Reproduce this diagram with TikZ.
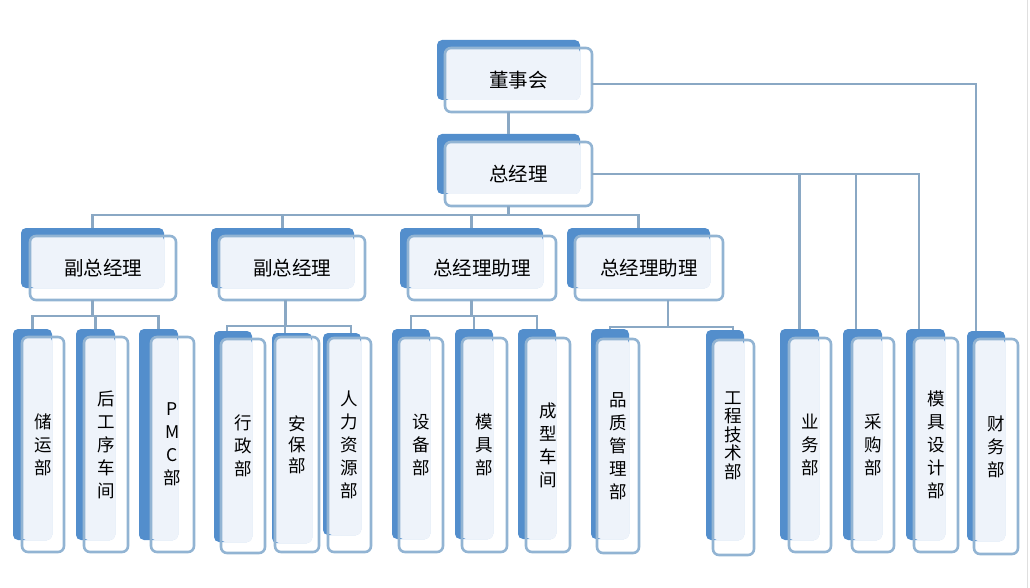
\documentclass[tikz,border=0pt]{standalone}
\usepackage{fontspec}
\newfontfamily\cjk{Noto Sans CJK SC}
\usetikzlibrary{fit}
\definecolor{orgblue}{RGB}{83,142,204}
\definecolor{orgedge}{RGB}{146,180,211}
\definecolor{orgpale}{RGB}{238,243,250}
\definecolor{orglink}{RGB}{138,168,196}
\newcommand{\orgunit}[7][]{%
  \node[backbox, fit={(#3) (#4)}] (#2b) {};
  \fill[palefill] (#5) rectangle (#4);
  \node[frontbox, fit={(#5) (#6)}] (#2) {};
  \node[unitlabel, #1] (#2t) at (#2.center) {#7};
}

\begin{document}
\begin{tikzpicture}[x=1pt,y=-1pt,
  backbox/.style={fill=orgblue,rounded corners=5pt,inner sep=0pt,outer sep=0pt},
  frontbox/.style={draw=orgedge,line width=2.6pt,rounded corners=6pt,inner sep=0pt,outer sep=0pt},
  palefill/.style={fill=orgpale,rounded corners=4pt},
  unitlabel/.style={align=center,inner sep=0pt,font=\cjk\fontsize{17.5}{23}\selectfont},
  toplabel/.style={font=\cjk\fontsize{19.5}{24}\selectfont},
  link/.style={draw=orglink,line width=2.6pt}]
  \useasboundingbox (0,0) rectangle (1030,588);
  \draw[gray!25,line width=1pt] (1027,0) -- (1027,588);
  \orgunit[toplabel]{dsh}{437,40}{580,100}{445,48}{592,112}{董事会}
  \orgunit[toplabel]{zjl}{437,134}{580,194}{445,142}{592,206}{总经理}
  \orgunit[toplabel]{fz1}{21,228}{164,288}{30,236}{176,300}{副总经理}
  \orgunit[toplabel]{fz2}{211,228}{354,288}{219,236}{365,300}{副总经理}
  \orgunit[toplabel]{zl1}{400,228}{543,288}{408,236}{556,300}{总经理助理}
  \orgunit[toplabel]{zl2}{567,228}{710,288}{575,236}{723,300}{总经理助理}
  \orgunit{cy}{13,329}{52,540}{22,337}{64,552}{储\\运\\部}
  \orgunit{hgx}{76,329}{115,540}{84,337}{128,552}{后\\工\\序\\车\\间}
  \orgunit{pmc}{139,329}{178,540}{151,337}{194,552}{P\\M\\C\\部}
  \orgunit{xz}{214,331}{252,542}{221,339}{265,553}{行\\政\\部}
  \orgunit[font=\cjk\fontsize{17.5}{21}\selectfont]{ab}{272,333}{312,543}{275,337}{319,552}{安\\保\\部}
  \orgunit{rl}{323,333}{361,535}{328,338}{371,552}{人\\力\\资\\源\\部}
  \orgunit{sb}{392,329}{430,539}{399,338}{443,552}{设\\备\\部}
  \orgunit{mj}{455,329}{493,539}{462,338}{507,552}{模\\具\\部}
  \orgunit{cx}{518,329}{556,539}{526,338}{570,552}{成\\型\\车\\间}
  \orgunit{pz}{591,329}{629,539}{597,339}{639,553}{品\\质\\管\\理\\部}
  \orgunit[font=\cjk\fontsize{17.5}{18.5}\selectfont,yshift=12pt]{gc}{706,330}{744,540}{713,340}{754,555}{工\\程\\技\\术\\部}
  \orgunit{yw}{780,329}{819,540}{789,338}{831,552}{业\\务\\部}
  \orgunit{cg}{843,329}{882,540}{852,338}{894,552}{采\\购\\部}
  \orgunit{mjsj}{906,329}{945,540}{914,338}{958,552}{模\\具\\设\\计\\部}
  \orgunit{cw}{967,331}{1005,541}{974,339}{1018,554}{财\\务\\部}
  \coordinate (busa) at (0,215);
  \coordinate (busb) at (0,316);
  \coordinate (busc) at (0,326);
  \coordinate (busd) at (0,327);
  \draw[link] (dshb.south |- dsh.south) -- (zjlb.north);
  \draw[link] (zjlb.south |- zjl.south) -- (zjlb.south |- busa);
  \draw[link] (fz1b.north) |- (busa -| zl2b.north) -- (zl2b.north);
  \foreach \n in {fz2b,zl1b}
    \draw[link] (\n.north) -- (\n.north |- busa);
  \draw[link] (fz1b.south |- fz1.south) -- (fz1b.south |- busb);
  \draw[link] (cyb.north) |- (busb -| pmcb.north) -- (pmcb.north);
  \draw[link] (hgxb.north) -- (hgxb.north |- busb);
  \coordinate (fz2out) at ([xshift=3pt]fz2b.south |- fz2.south);
  \coordinate (xzin) at ([xshift=-6pt]xzb.north);
  \coordinate (abin) at ([xshift=-7pt]abb.north);
  \coordinate (rlin) at ([xshift=9pt]rlb.north);
  \draw[link] (fz2out) -- (fz2out |- busc);
  \draw[link] (xzin) |- (busc -| rlin) -- (rlin);
  \draw[link] (abin) -- (abin |- busc);
  \draw[link] (zl1b.south |- zl1.south) -- (zl1b.south |- busb);
  \draw[link] (sbb.north) |- (busb -| cxb.north) -- (cxb.north);
  \draw[link] (mjb.north) -- (mjb.north |- busb);
  \coordinate (zl2out) at ([xshift=19pt]zl2.south);
  \coordinate (gcin) at ([xshift=8pt]gcb.north);
  \draw[link] (zl2out) -- (zl2out |- busd);
  \draw[link] (pzb.north) |- (busd -| gcin) -- (gcin);
  \coordinate (cgin) at ([xshift=-6.5pt]cgb.north);
  \coordinate (mjsjin) at ([xshift=-6.5pt]mjsjb.north);
  \coordinate (cwin) at ([xshift=-10pt]cwb.north);
  \draw[link] (zjl.east) -| (mjsjin);
  \draw[link] (ywb.north) -- (ywb.north |- zjl.east);
  \draw[link] (cgin) -- (cgin |- zjl.east);
  \draw[link] ([yshift=-4pt]dsh.east) -| (cwin);
\end{tikzpicture}
\end{document}
